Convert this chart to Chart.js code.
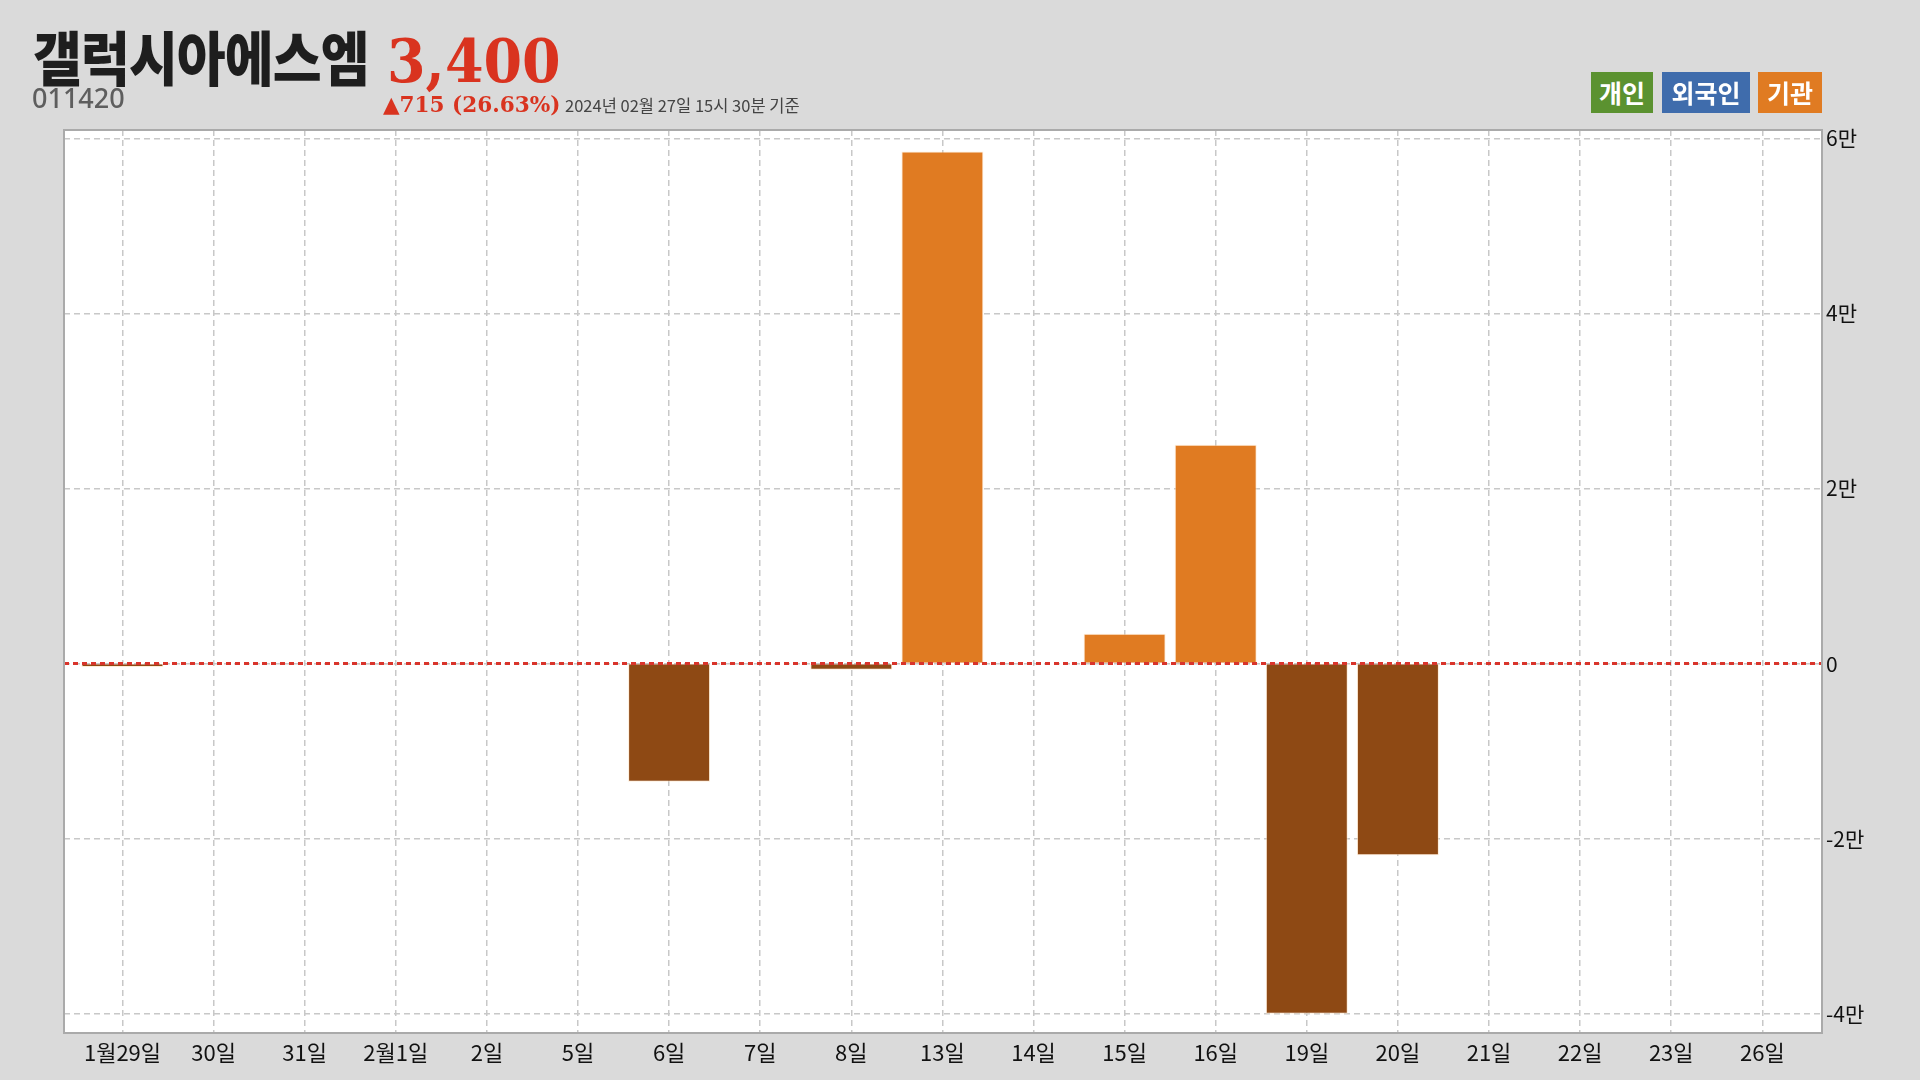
<!DOCTYPE html>
<html>
<head>
<meta charset="utf-8">
<script src="https://cdn.jsdelivr.net/npm/chart.js@4"></script>
<style>
    html, body { margin: 0; padding: 0; background: #dadada; }
    body { width: 1920px; height: 1080px; position: relative; overflow: hidden; }
    #chartBox { position: absolute; left: 0; top: 0; width: 1920px; height: 1080px; }
    .abs { position: absolute; white-space: nowrap; }
    #title { left: 33px; top: 26px; font-family: "Noto Sans CJK KR"; font-weight: 900; font-size: 59px; line-height: 1; color: #1e1e1e; transform: scaleX(0.9); transform-origin: left top; letter-spacing: -1px; }
    #price { left: 387px; top: 32px; font-family: "DejaVu Serif"; font-weight: bold; font-size: 59px; line-height: 1; color: #d9331f; transform: scaleX(0.94); transform-origin: left top; }
    #code { left: 32px; top: 84px; font-family: "Noto Sans"; font-weight: 500; font-size: 27px; line-height: 1; color: #5e5e5e; }
    #change { left: 383px; top: 93px; font-family: "DejaVu Serif"; font-weight: bold; font-size: 22px; line-height: 1; color: #d9331f; transform: scaleX(0.98); transform-origin: left top; }
    #stamp { left: 565px; top: 97px; font-family: "Noto Sans CJK KR"; font-size: 16.5px; line-height: 1; color: #444; }
    .tag { position: absolute; top: 72px; height: 41px; line-height: 41px; text-align: center; color: #fff; font-family: "Noto Sans CJK KR"; font-weight: bold; font-size: 25px; }
</style>
</head>
<body>
<div id="chartBox"><canvas id="investorChart" width="1920" height="1080"></canvas></div>
<div class="abs" id="title">갤럭시아에스엠</div>
<div class="abs" id="price">3,400</div>
<div class="abs" id="code">011420</div>
<div class="abs" id="change">▲715 (26.63%)</div>
<div class="abs" id="stamp">2024년 02월 27일 15시 30분 기준</div>
<div class="tag" style="left:1591px;width:62px;background:#5b9230;">개인</div>
<div class="tag" style="left:1662px;width:88px;background:#3f6cac;">외국인</div>
<div class="tag" style="left:1758px;width:64px;background:#e07b22;">기관</div>
<script>
const dayLabels = ['1월29일', '30일', '31일', '2월1일', '2일', '5일', '6일', '7일', '8일', '13일',
    '14일', '15일', '16일', '19일', '20일', '21일', '22일', '23일', '26일'];
// 기관 순매수 (주)
const institutionNet = [-400, 0, 0, -100, 0, -50, -13500, 0, -700, 58500,
    0, 3400, 25000, -40000, -21900, 0, 0, 0, 0];
const yTickValues = [-40000, -20000, 0, 20000, 40000, 60000];
const yTickLabels = ['-4만', '-2만', '0', '2만', '4만', '6만'];

const UP_COLOR = '#e07b22';
const DOWN_COLOR = '#8e4914';

const plotFrame = {
    id: 'plotFrame',
    beforeDraw(chart) {
        const a = chart.chartArea;
        const ctx = chart.ctx;
        ctx.save();
        ctx.fillStyle = '#ffffff';
        ctx.fillRect(a.left, a.top, a.right - a.left, a.bottom - a.top);
        ctx.restore();
    },
    afterDatasetsDraw(chart) {
        const a = chart.chartArea;
        const ctx = chart.ctx;
        const y0 = chart.scales.y.getPixelForValue(0);
        ctx.save();
        ctx.strokeStyle = '#d9342b';
        ctx.lineWidth = 3;
        ctx.setLineDash([5, 4]);
        ctx.beginPath();
        ctx.moveTo(a.left, y0);
        ctx.lineTo(a.right, y0);
        ctx.stroke();
        ctx.setLineDash([]);
        ctx.strokeStyle = '#aaaaaa';
        ctx.lineWidth = 2;
        ctx.strokeRect(a.left, a.top, a.right - a.left, a.bottom - a.top);
        ctx.restore();
    }
};

new Chart(document.getElementById('investorChart'), {
    type: 'bar',
    data: {
        datasets: [{
            label: '기관',
            data: institutionNet.map((v, i) => ({ x: i, y: v })),
            backgroundColor: ctx => (ctx.raw && ctx.raw.y < 0 ? DOWN_COLOR : UP_COLOR),
            borderColor: 'rgba(255, 225, 190, 0.6)',
            borderWidth: 1,
            barPercentage: 0.9,
            categoryPercentage: 1.0
        }]
    },
    options: {
        responsive: false,
        animation: false,
        layout: { padding: { left: 64, top: 130, right: 0, bottom: 0 } },
        plugins: {
            legend: { display: false },
            tooltip: { enabled: false }
        },
        scales: {
            x: {
                type: 'linear',
                offset: false,
                min: -0.642,
                max: 18.655,
                afterBuildTicks: scale => {
                    scale.ticks = dayLabels.map((_, i) => ({ value: i }));
                },
                afterFit: scale => { scale.height = 47; },
                ticks: {
                    autoSkip: false,
                    maxRotation: 0,
                    padding: 6,
                    color: '#111',
                    font: { family: 'Noto Sans CJK KR', size: 22 },
                    callback: v => dayLabels[v]
                },
                grid: { offset: false, color: '#c8c8c8', lineWidth: 1.5, drawTicks: false },
                border: { display: false, dash: [6, 4] }
            },
            y: {
                type: 'linear',
                position: 'right',
                min: -42200,
                max: 60950,
                afterBuildTicks: scale => {
                    scale.ticks = yTickValues.map(v => ({ value: v }));
                },
                afterFit: scale => { scale.width = 98; },
                ticks: {
                    padding: 4,
                    color: '#111',
                    font: { family: 'Noto Sans CJK KR', size: 21 },
                    callback: v => yTickLabels[yTickValues.indexOf(v)]
                },
                grid: { color: '#c8c8c8', lineWidth: 1.5, drawTicks: false },
                border: { display: false, dash: [6, 4] }
            }
        }
    },
    plugins: [plotFrame]
});
</script>
</body>
</html>
